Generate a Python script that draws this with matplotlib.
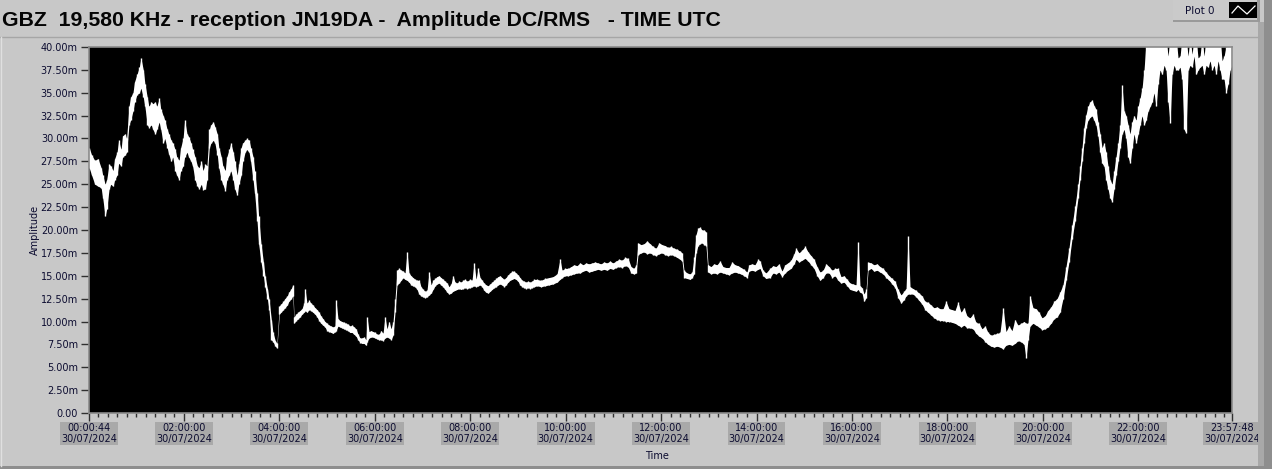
import matplotlib
matplotlib.use("Agg")
import matplotlib.pyplot as plt
from matplotlib.patches import Rectangle
from matplotlib.lines import Line2D
import numpy as np

# GBZ 19.58 kHz amplitude, 30/07/2024, time in minutes after 00:00 UTC
# lo / hi = lower and upper edge of the (noisy) trace at that time, in mV
t_min = [
    1, 4, 8, 12, 16, 18, 21, 23, 26, 28, 31, 33, 36, 38, 41, 43, 46, 48, 51, 53,
    56, 58, 61, 64, 66, 69, 71, 74, 76, 79, 81, 84, 86, 89, 91, 94, 96, 99, 101, 104,
    106, 109, 111, 114, 116, 119, 121, 124, 126, 129, 131, 134, 137, 139, 142, 144, 147, 149, 152, 154,
    157, 159, 162, 164, 167, 169, 172, 174, 177, 179, 182, 184, 187, 189, 192, 194, 197, 199, 202, 204,
    207, 209, 212, 214, 217, 220, 222, 225, 227, 230, 232, 235, 237, 240, 242, 245, 247, 250, 252, 255,
    257, 258.5, 261, 263.5, 266, 268.5, 271, 272.3, 274.8, 277.3, 279.8, 282.3, 284.9, 287.4, 289.9, 292.4, 294.9, 297.4, 299.9, 302.5,
    305.0, 307.5, 310.0, 311.3, 313.8, 316.3, 318.8, 321.4, 323.9, 326.4, 328.9, 331.4, 333.9, 336.4, 339.0, 341.5, 344.0, 346.5, 349.0, 350.3,
    352.8, 355.3, 357.8, 360.4, 362.9, 365.4, 367.9, 370.4, 372.9, 375.4, 378.0, 380.5, 383.0, 385.5, 388.0, 390.5, 393.1, 395.6, 398.1, 400.6,
    403.1, 405.6, 408.1, 410.7, 413.2, 415.7, 418.2, 420.7, 423.2, 425.7, 428.3, 430.8, 433.3, 435.8, 438.3, 440.8, 443.3, 445.9, 448.4, 450.9,
    453.4, 455.9, 458.4, 460.9, 463.5, 466.0, 468.5, 471.0, 473.5, 476.0, 479.8, 482.3, 484.8, 487.4, 489.9, 492.4, 494.9, 497.4, 499.9, 502.5,
    505.0, 507.5, 510.0, 512.5, 515.0, 517.5, 520.0, 522.5, 525.0, 527.6, 530.1, 532.6, 535.1, 537.6, 540.1, 542.6, 545.2, 547.7, 550.2, 552.7,
    555.2, 557.7, 560.2, 564.0, 569.0, 574.1, 579.1, 584.1, 589.2, 592.9, 595.5, 599.2, 603.0, 606.8, 610.5, 614.3, 618.1, 621.9, 625.6, 629.4,
    633.2, 636.9, 640.7, 644.5, 648.2, 652.0, 655.8, 659.5, 663.3, 667.1, 670.9, 674.6, 678.4, 682.2, 685.9, 688.5, 691.0, 694.8, 698.5, 702.3,
    706.1, 709.8, 713.6, 717.4, 721.2, 724.9, 728.7, 732.5, 736.2, 740.0, 743.8, 746.3, 748.8, 752.6, 756.4, 758.9, 761.4, 763.9, 766.4, 768.9,
    771.4, 773.9, 776.4, 779.0, 782.7, 786.5, 790.3, 794.1, 797.8, 801.6, 805.4, 809.1, 812.9, 816.7, 820.5, 824.2, 828.0, 830.5, 834.3, 838.0,
    841.8, 844.4, 848.1, 851.9, 856.9, 860.7, 864.4, 868.2, 872.0, 875.7, 879.5, 883.3, 887.1, 889.6, 893.4, 897.2, 901.0, 904.8, 908.5, 912.3,
    916.1, 919.8, 923.6, 927.4, 931.2, 934.9, 938.7, 942.5, 946.2, 950.0, 953.8, 957.6, 961.3, 965.1, 967.6, 970.1, 972.6, 975.2, 977.7, 980.2,
    984.0, 987.7, 991.5, 995.3, 999.1, 1002.8, 1006.6, 1010.4, 1014.1, 1017.9, 1021.7, 1025.4, 1028.0, 1030.5, 1033.0, 1036.7, 1040.5, 1044.3, 1048.1, 1051.8,
    1055.6, 1059.4, 1063.1, 1066.9, 1070.7, 1074.5, 1078.2, 1082.0, 1085.8, 1089.5, 1093.3, 1097.1, 1100.9, 1104.6, 1108.4, 1112.2, 1115.9, 1119.7, 1123.5, 1127.3,
    1131.0, 1134.8, 1138.6, 1142.3, 1146.1, 1149.9, 1153.6, 1157.4, 1161.2, 1164.9, 1168.7, 1172.5, 1176.3, 1178.8, 1181.3, 1183.8, 1187.6, 1191.4, 1195.1, 1198.9,
    1202.7, 1206.4, 1210.2, 1214.0, 1217.8, 1221.5, 1225.3, 1229.1, 1232.8, 1236.6, 1240.4, 1244.2, 1246.7, 1249.2, 1251.7, 1254.2, 1256.7, 1259.3, 1261.8, 1264.3,
    1266.8, 1269.3, 1271.9, 1274.4, 1276.9, 1279.4, 1281.9, 1284.5, 1287.0, 1289.5, 1292.0, 1294.5, 1297.0, 1299.5, 1302.1, 1304.6, 1307.1, 1309.6, 1312.1, 1314.6,
    1317.2, 1319.7, 1322.2, 1324.7, 1327.2, 1329.7, 1332.2, 1334.8, 1337.3, 1339.8, 1342.3, 1344.8, 1347.3, 1349.9, 1352.4, 1354.9, 1357.4, 1359.9, 1362.4, 1364.9,
    1367.5, 1370.0, 1372.5, 1375.0, 1377.5, 1380.0, 1382.6, 1385.1, 1387.6, 1390.1, 1392.6, 1395.1, 1397.6, 1400.2, 1402.7, 1405.2, 1407.7, 1410.2, 1412.7, 1415.3,
    1417.8, 1420.3, 1422.8, 1425.3, 1427.8, 1430.3, 1432.9, 1435.4, 1437.8,
]
amp_lo = [
    26.8, 26.0, 25.0, 24.8, 24.6, 23.5, 21.5, 22.3, 24.5, 25.0, 24.8, 25.5, 26.0, 27.3, 27.0, 28.0, 28.2, 28.5, 31.5, 32.0,
    33.0, 34.0, 34.8, 35.0, 35.5, 34.5, 33.5, 31.5, 31.2, 31.5, 31.0, 30.5, 31.0, 31.8, 31.0, 29.5, 30.0, 29.0, 28.3, 27.5,
    28.0, 26.5, 26.0, 25.5, 26.5, 27.0, 28.0, 28.5, 28.0, 27.5, 27.0, 25.5, 24.8, 24.5, 25.0, 24.4, 24.5, 25.5, 29.0, 29.5,
    29.8, 29.5, 28.2, 26.8, 25.5, 25.0, 24.3, 25.5, 26.0, 26.5, 25.5, 24.5, 23.8, 25.0, 26.0, 27.5, 28.5, 28.8, 28.5, 27.5,
    25.5, 24.0, 21.0, 18.5, 16.5, 15.0, 13.8, 12.5, 11.3, 8.0, 7.8, 7.3, 7.1, 10.8, 11.0, 11.3, 11.5, 11.8, 12.2, 12.5,
    12.8, 9.8, 10.1, 10.3, 10.5, 10.8, 11.0, 11.2, 11.0, 11.3, 11.2, 11.0, 10.8, 10.5, 10.1, 9.8, 9.6, 9.4, 9.0, 8.9,
    8.8, 8.7, 8.9, 9.0, 9.5, 9.4, 9.3, 9.2, 9.1, 9.0, 8.8, 8.8, 8.6, 8.4, 8.0, 7.7, 7.6, 7.6, 7.4, 7.8,
    8.2, 8.3, 8.3, 8.2, 8.1, 8.0, 8.0, 7.9, 8.2, 8.3, 8.2, 8.0, 8.5, 11.0, 14.0, 14.2, 14.5, 14.8, 14.6, 14.5,
    14.3, 14.0, 13.9, 13.8, 13.5, 13.0, 12.8, 12.7, 12.6, 12.7, 12.9, 13.1, 13.5, 13.9, 14.1, 14.2, 14.0, 13.8, 13.5, 13.2,
    13.0, 13.1, 13.3, 13.4, 13.5, 13.6, 13.5, 13.6, 13.7, 13.6, 13.7, 13.8, 13.9, 13.8, 13.9, 14.0, 13.8, 13.4, 13.2, 13.1,
    13.3, 13.5, 13.7, 13.8, 14.0, 14.1, 14.0, 13.8, 14.0, 14.3, 14.5, 14.6, 14.7, 14.6, 14.4, 14.0, 13.8, 13.7, 13.6, 13.7,
    13.6, 13.7, 13.8, 13.9, 13.8, 13.9, 14.0, 14.1, 14.3, 14.6, 14.8, 15.0, 15.0, 15.1, 15.2, 15.3, 15.3, 15.5, 15.6, 15.4,
    15.5, 15.6, 15.7, 15.6, 15.7, 15.6, 15.8, 15.7, 15.9, 16.0, 15.9, 16.1, 16.0, 15.3, 15.2, 15.3, 17.3, 17.5, 17.6, 17.4,
    17.5, 17.3, 17.2, 17.4, 17.5, 17.3, 17.2, 17.3, 17.2, 17.0, 16.8, 16.6, 14.8, 14.7, 14.6, 14.8, 15.2, 17.5, 18.3, 18.5,
    18.6, 18.4, 18.3, 15.4, 15.2, 15.3, 15.2, 15.4, 15.3, 15.2, 15.1, 15.3, 15.4, 15.3, 15.2, 15.0, 14.8, 15.5, 15.6, 15.5,
    15.7, 15.8, 15.0, 14.7, 14.8, 15.3, 15.2, 15.4, 14.9, 15.3, 15.6, 15.8, 16.3, 16.8, 16.5, 16.7, 16.9, 16.6, 16.2, 15.8,
    15.0, 14.5, 14.8, 15.3, 15.3, 14.8, 15.0, 14.5, 14.2, 14.3, 13.9, 13.5, 13.4, 13.3, 13.5, 13.2, 13.1, 12.2, 12.6, 15.6,
    15.8, 15.5, 15.6, 15.4, 15.2, 14.8, 14.5, 14.1, 13.7, 12.6, 12.0, 12.4, 12.8, 13.0, 13.0, 13.0, 12.7, 12.3, 11.9, 11.3,
    11.0, 10.7, 10.4, 10.2, 10.1, 10.1, 10.0, 10.0, 9.9, 9.8, 9.6, 9.4, 9.6, 9.3, 9.3, 9.2, 8.7, 8.4, 8.2, 7.8,
    7.5, 7.3, 7.2, 7.3, 7.2, 7.0, 7.4, 7.5, 7.4, 7.6, 7.9, 7.8, 7.5, 6.0, 8.0, 9.5, 9.8, 9.6, 9.4, 9.1,
    9.2, 9.4, 9.8, 10.3, 10.5, 11.0, 12.5, 14.5, 16.5, 19.0, 21.0, 23.5, 25.5, 27.5, 29.5, 31.2, 32.0, 32.3, 32.5, 32.0,
    31.5, 30.3, 28.5, 27.3, 27.0, 25.5, 24.5, 23.5, 23.1, 24.5, 26.0, 27.5, 29.0, 30.5, 31.0, 30.0, 28.0, 27.3, 29.0, 30.5,
    29.5, 30.5, 31.5, 32.5, 31.5, 32.0, 33.0, 33.5, 34.0, 35.0, 33.5, 36.0, 37.5, 37.0, 38.0, 37.5, 34.0, 31.7, 37.0, 38.0,
    37.5, 37.5, 37.8, 36.5, 31.0, 30.6, 37.5, 38.0, 37.8, 39.0, 37.0, 37.5, 37.8, 38.0, 37.0, 38.0, 37.8, 38.5, 37.5, 38.0,
    37.0, 38.5, 37.5, 36.5, 36.5, 35.0, 36.0, 37.5, 38.0,
]
amp_hi = [
    29.0, 28.2, 27.6, 27.8, 26.8, 26.0, 25.0, 25.5, 27.2, 27.0, 26.5, 27.8, 28.5, 29.8, 28.8, 30.3, 30.5, 30.0, 33.5, 34.5,
    35.0, 36.2, 37.0, 37.8, 38.8, 37.5, 36.0, 34.5, 33.5, 34.0, 33.8, 34.0, 33.5, 34.4, 33.2, 32.5, 32.0, 31.0, 30.5, 29.8,
    29.5, 28.8, 28.0, 27.6, 29.0, 30.0, 32.0, 30.5, 30.2, 29.5, 28.8, 28.0, 27.0, 26.8, 27.5, 26.5, 27.2, 27.0, 31.0, 31.5,
    31.8, 31.3, 30.5, 29.0, 28.0, 27.0, 26.5, 28.0, 28.8, 29.5, 28.5, 27.5, 26.0, 27.2, 29.0, 29.5, 29.8, 30.0, 29.8, 29.0,
    28.0, 26.5, 24.0, 21.5, 18.5, 16.5, 15.0, 13.6, 12.5, 10.2, 8.8, 7.9, 7.6, 11.7, 11.9, 12.2, 12.5, 12.8, 13.2, 13.6,
    14.0, 10.5, 10.8, 11.0, 11.2, 11.4, 12.0, 13.6, 12.0, 12.3, 12.0, 11.8, 11.5, 11.3, 11.0, 10.6, 10.3, 10.0, 9.8, 9.6,
    9.5, 9.4, 9.5, 12.3, 10.3, 10.1, 10.0, 9.9, 9.8, 9.7, 9.5, 9.6, 9.4, 9.2, 8.6, 8.2, 8.2, 8.3, 8.0, 10.5,
    8.9, 9.0, 8.9, 8.8, 8.6, 8.6, 9.0, 8.7, 10.5, 9.2, 10.0, 9.2, 10.0, 12.5, 15.6, 15.8, 15.6, 15.5, 15.3, 17.6,
    15.3, 15.0, 14.8, 14.6, 14.5, 14.5, 13.8, 13.5, 13.3, 13.4, 15.4, 14.0, 14.5, 14.7, 14.9, 15.0, 14.8, 14.6, 14.4, 14.2,
    13.8, 14.1, 15.0, 14.3, 14.2, 14.4, 14.3, 14.5, 14.6, 14.4, 14.6, 14.5, 16.4, 14.6, 15.8, 14.8, 14.5, 14.2, 14.0, 13.9,
    14.1, 14.3, 14.5, 14.7, 14.9, 15.0, 14.8, 14.6, 14.8, 15.1, 15.3, 15.5, 15.5, 15.3, 15.1, 14.8, 14.5, 14.4, 14.3, 14.4,
    14.3, 14.4, 14.6, 14.6, 14.5, 14.7, 14.8, 14.9, 15.2, 16.8, 15.6, 15.8, 15.8, 16.0, 16.2, 16.1, 16.4, 16.2, 16.4, 16.3,
    16.4, 16.5, 16.4, 16.3, 16.5, 16.4, 16.6, 16.4, 16.6, 16.8, 16.7, 17.0, 16.9, 16.0, 15.8, 16.2, 18.6, 18.4, 18.5, 18.8,
    18.5, 18.2, 18.0, 18.6, 18.4, 18.3, 18.1, 18.2, 18.0, 17.9, 17.7, 17.5, 15.6, 15.3, 15.2, 15.4, 17.0, 19.5, 20.2, 20.3,
    20.0, 20.0, 19.8, 16.2, 16.0, 16.3, 16.2, 16.6, 16.0, 15.9, 15.9, 16.5, 16.2, 16.1, 15.9, 15.7, 15.4, 16.2, 16.3, 16.2,
    16.8, 16.6, 15.6, 15.3, 15.8, 16.1, 16.0, 16.3, 15.5, 16.2, 16.4, 16.7, 17.4, 18.0, 17.5, 17.8, 18.2, 17.6, 17.2, 16.8,
    16.0, 15.4, 15.6, 16.3, 16.0, 15.6, 15.8, 15.8, 14.9, 15.0, 14.6, 14.2, 14.1, 14.0, 18.7, 13.9, 13.7, 13.0, 13.5, 16.5,
    16.4, 16.2, 16.3, 16.0, 15.8, 15.4, 15.0, 14.7, 14.4, 13.5, 12.9, 13.3, 13.6, 19.3, 13.8, 13.6, 13.4, 13.1, 12.8, 12.2,
    12.1, 11.8, 11.5, 11.6, 11.4, 11.4, 12.2, 11.4, 11.3, 11.2, 12.1, 11.0, 11.5, 10.6, 10.4, 10.8, 9.9, 9.8, 9.2, 9.5,
    8.8, 8.5, 8.6, 8.7, 8.8, 11.5, 8.9, 9.5, 9.0, 10.2, 9.6, 9.8, 10.0, 9.8, 9.8, 12.8, 11.5, 11.4, 11.0, 10.4,
    10.6, 11.2, 11.6, 12.2, 12.5, 13.2, 14.0, 16.0, 18.0, 20.5, 22.6, 25.0, 27.0, 29.0, 31.2, 32.6, 33.5, 34.0, 34.2, 33.6,
    33.2, 31.8, 30.5, 29.0, 29.5, 28.5, 27.0, 25.5, 25.0, 26.5, 28.0, 29.5, 31.5, 35.8, 33.0, 32.5, 31.5, 30.5, 31.8, 32.5,
    32.0, 33.5, 34.4, 35.5, 37.5, 40.5, 41.0, 41.0, 41.0, 41.0, 41.0, 41.0, 41.0, 41.0, 41.0, 41.0, 39.0, 41.0, 41.0, 41.0,
    41.0, 38.8, 39.0, 41.0, 41.0, 41.0, 39.0, 41.0, 39.2, 41.0, 41.0, 38.8, 39.0, 41.0, 39.0, 41.0, 41.0, 41.0, 41.0, 41.0,
    41.0, 41.0, 41.0, 38.5, 39.0, 40.0, 41.0, 41.0, 41.0,
]

tick_min = [0.73, 120, 240, 360, 480, 600, 720, 840, 960, 1080, 1200, 1320, 1437.8]
tick_time = ["00:00:44", "02:00:00", "04:00:00", "06:00:00", "08:00:00", "10:00:00",
             "12:00:00", "14:00:00", "16:00:00", "18:00:00", "20:00:00", "22:00:00", "23:57:48"]
day = "30/07/2024"
y_ticks = [0, 2.5, 5, 7.5, 10, 12.5, 15, 17.5, 20, 22.5, 25, 27.5, 30, 32.5, 35, 37.5, 40]

W, H = 1272, 469
panel = "#c8c8c8"
txt = "#0c0c30"

fig = plt.figure(figsize=(W / 100, H / 100), dpi=100, facecolor=panel)


def px_rect(x0, y0, x1, y1, color, z=0):
    fig.patches.append(Rectangle((x0 / W, 1 - y1 / H), (x1 - x0) / W, (y1 - y0) / H,
                                 transform=fig.transFigure, facecolor=color,
                                 edgecolor="none", zorder=z))


def px_line(xs, ys, color, lw=1.0, z=1):
    fig.lines.append(Line2D([x / W for x in xs], [1 - y / H for y in ys],
                            transform=fig.transFigure, color=color, lw=lw, zorder=z))


# frame of the chart panel
px_rect(1258, 22, 1264, 469, "#a8a8a8")
px_rect(1264, 0, 1272, 469, "#8e8e8e")
px_rect(0, 466, 1272, 469, "#8e8e8e")
px_line([0, 1258], [37.5, 37.5], "#a6a6a6")
px_line([0.5, 0.5], [37, 466], "#e0e0e0")

# legend "Plot 0"
px_rect(1173, 0, 1258, 20, "#cacaca", 1)
px_rect(1173, 20, 1260, 22, "#9a9a9a", 1)
px_rect(1257, 0, 1260, 22, "#9a9a9a", 1)
px_rect(1229, 2, 1257, 18, "black", 2)
px_line([1232, 1238, 1247, 1255], [13, 6, 14, 6], "white", 0.9, 3)
fig.text(1200 / W, 1 - 11 / H, "Plot 0", ha="center", va="center", fontsize=7.5,
         color=txt, family="DejaVu Sans")

fig.text(2 / W, 1 - 21 / H, "GBZ  19,580 KHz - reception JN19DA -  Amplitude DC/RMS   - TIME UTC",
         ha="left", va="center", fontsize=15.3, fontweight="bold", family="Liberation Sans",
         color="#050505")

ax = fig.add_axes([89 / W, (H - 413) / H, 1143 / W, 366 / H])
ax.set_facecolor("black")

ax.fill_between(t_min, amp_lo, amp_hi, color="white", lw=0, antialiased=False)
ax.vlines(t_min, amp_lo, amp_hi, color="white", lw=1.0)

ax.set_xlim(tick_min[0], tick_min[-1])
ax.set_ylim(0, 40)

ax.set_yticks(y_ticks)
ax.set_yticklabels(["0.00"] + [f"{v:.2f}m" for v in y_ticks[1:]])
ax.set_xticks(tick_min)
ax.set_xticklabels([f"{tt}\n{day}" for tt in tick_time], linespacing=1.05)
ax.set_xticks(np.arange(12, 1437, 12), minor=True)

ax.tick_params(axis="y", direction="out", length=6, width=1, color="#303030",
               pad=2, labelsize=7, labelcolor=txt)
ax.tick_params(axis="x", which="major", direction="out", length=6, width=1,
               color="#303030", pad=1.5, labelsize=7, labelcolor=txt)
ax.tick_params(axis="x", which="minor", direction="out", length=3, width=1,
               color="#303030")
for lbl in ax.get_xticklabels():
    lbl.set_bbox(dict(boxstyle="square,pad=0.1", facecolor="#a9a9a9", edgecolor="none"))

for sp in ax.spines.values():
    sp.set_color("#8a8a8a")
    sp.set_linewidth(1.2)

fig.text(35 / W, 1 - 230 / H, "Amplitude", rotation=90, ha="center", va="center",
         fontsize=7, color=txt)
fig.text(657 / W, 1 - 456 / H, "Time", ha="center", va="center", fontsize=7, color=txt)

fig.savefig("out.png", dpi=100, facecolor=panel)
